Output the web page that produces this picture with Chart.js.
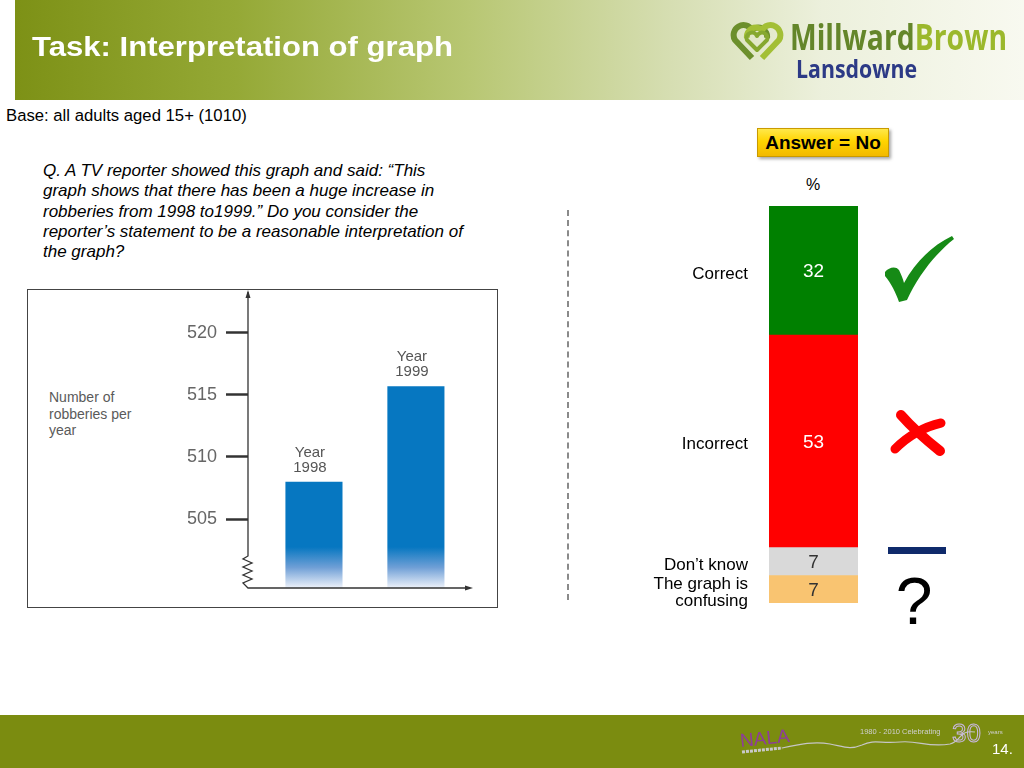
<!DOCTYPE html>
<html>
<head>
<meta charset="utf-8">
<script src="https://cdn.jsdelivr.net/npm/chart.js@4.4.1/dist/chart.umd.min.js"></script>
<style>
  body { margin: 0; width: 1024px; height: 768px; position: relative; overflow: hidden; background: #fff;
         font-family: "Liberation Sans", Arial, sans-serif; }
  .abs { position: absolute; }
  #header { left: 15px; top: 0; width: 1009px; height: 100px;
            background: linear-gradient(90deg, #7d9116 0%, #95a936 22%, #b8c773 45%, #d6deb2 65%, #ecf0dc 80%, #f8f9f0 100%); }
  #footer { left: 0; top: 715px; width: 1024px; height: 53px; background: #7b8c10; }
  #base { left: 6px; top: 108px; font-size: 16.7px; color: #000; line-height: 1; }
  #question { left: 43px; top: 161px; font-size: 17px; font-style: italic; line-height: 20.3px; color: #000; }
  #graphBox { left: 27px; top: 289px; width: 469px; height: 317px; border: 1.5px solid #444; }
  #robLabel { left: 49px; top: 389px; font-size: 14px; line-height: 16.5px; color: #5a5a5a; }
  #answerBox { left: 757px; top: 128px; width: 132px; height: 29px; box-sizing: border-box;
               background: linear-gradient(180deg, #ffe84a 0%, #ffd400 45%, #f2b900 100%);
               border: 1px solid #c99a00; box-shadow: 2px 2px 3px rgba(0,0,0,0.35);
               font-weight: bold; font-size: 19px; line-height: 27px; text-align: center; color: #000; }
  #pct { left: 796px; top: 177px; width: 34px; text-align: center; font-size: 16px; line-height: 16px; }
  #divider { left: 567px; top: 210px; width: 0; height: 390px; border-left: 2px dashed #8a8a8a; }
  canvas { position: absolute; }
  #robChart { left: 28px; top: 290px; }
  #ansChart { left: 620px; top: 200px; }
  svg { position: absolute; left: 0; top: 0; }
</style>
</head>
<body>
<div id="header" class="abs"></div>
<div id="footer" class="abs"></div>

<div id="base" class="abs">Base: all adults aged 15+ (1010)</div>
<div id="question" class="abs">Q. A TV reporter showed this graph and said: “This<br>graph shows that there has been a huge increase in<br>robberies from 1998 to1999.” Do you consider the<br>reporter’s statement to be a reasonable interpretation of<br>the graph?</div>

<div id="graphBox" class="abs"></div>
<div id="robLabel" class="abs">Number of<br>robberies per<br>year</div>
<canvas id="robChart" width="469" height="317"></canvas>

<div id="divider" class="abs"></div>
<div id="answerBox" class="abs">Answer = No</div>
<div id="pct" class="abs">%</div>
<canvas id="ansChart" width="250" height="410"></canvas>

<svg width="1024" height="768">
  <!-- title -->
  <text x="32" y="56" font-family="Liberation Sans, Arial" font-weight="bold" font-size="28" fill="#fff"
        textLength="421" lengthAdjust="spacingAndGlyphs">Task: Interpretation of graph</text>

  <!-- logo -->
  <g fill="none" stroke-width="6" stroke-linejoin="round">
    <path d="M752,58 L735,40 A9,9 0 0 1 752,30 A9,9 0 0 1 767,38" stroke="#6c8f2c"/>
    <path d="M762,58 L779,40 A9,9 0 0 0 762,30 A9,9 0 0 0 747,38" stroke="#a3bf35"/>
    <path d="M757,50 L747,40 A5,5 0 0 1 757,36 A5,5 0 0 1 767,40 Z" stroke="#86a82f" stroke-width="4"/>
  </g>
  <text x="790" y="50" font-family="Open Sans, Lato, sans-serif" font-weight="bold" font-size="35"
        textLength="217" lengthAdjust="spacingAndGlyphs"><tspan fill="#64862a">Millward</tspan><tspan fill="#9bb82c">Brown</tspan></text>
  <text x="796" y="78" font-family="Open Sans, Lato, sans-serif" font-weight="bold" font-size="25" fill="#2c3a86"
        textLength="121" lengthAdjust="spacingAndGlyphs">Lansdowne</text>

  <!-- right-hand markers -->
  <path d="M885,272 C889,267 896,266 899,270 C901,274 903,279 904,283 C915,262 933,245 952,236 L954,239 C935,254 918,276 907,300 L899,302 C896,293 891,283 885,276 Z" fill="#168a16"/>
  <path d="M901,415 Q915,431 940,451" stroke="#ff0000" stroke-width="10" stroke-linecap="round" fill="none"/>
  <path d="M941,423 Q915,429 895,449" stroke="#ff0000" stroke-width="9" stroke-linecap="round" fill="none"/>
  <rect x="888" y="547" width="58" height="7" fill="#0f2a6b"/>
  <text x="914" y="624" font-family="Liberation Sans, Arial" font-size="66" fill="#000" text-anchor="middle">?</text>

  <!-- footer -->
  <text x="740" y="745" font-family="Liberation Sans, Arial" font-size="19" fill="#8e3c9c" transform="rotate(-6 760 740)">NALA</text>
  <path d="M742,752 L782,748" stroke="#c9c9c9" stroke-width="3" stroke-dasharray="3,1"/>
  <path d="M782,748 C800,744 815,741 830,744 C845,747 850,750 862,745 C875,739 880,744 900,742 C918,740 928,748 950,744 C962,741 958,730 975,732"
        stroke="#c6c6c6" stroke-width="1.2" fill="none"/>
  <text x="860" y="734" font-family="Liberation Sans, Arial" font-size="7.5" fill="#d0d0d0">1980 - 2010  Celebrating</text>
  <text x="952" y="742" font-family="Liberation Sans, Arial" font-size="26" fill="none" stroke="#c9b8e0" stroke-width="1">30</text>
  <text x="988" y="734" font-family="Liberation Sans, Arial" font-size="6" fill="#d0d0d0">years</text>
  <text x="992" y="754" font-family="Liberation Sans, Arial" font-size="15" fill="#fff">14.</text>
</svg>

<script>
// ==========================
//  DATA
// ==========================
// graph shown to respondents
const shownYears = [1998, 1999];
const shownRobberies = [508, 515.7];
const shownTicks = [505, 510, 515, 520];

// answers (%), top to bottom
const answerLabels = ['Correct', 'Incorrect', 'Don’t know', ['The graph is', 'confusing']];
const answerValues = [32, 53, 7, 7];

const answerColors = ['#008000', '#ff0000', '#d9d9d9', '#f9c471'];
const answerTextColors = ['#fff', '#fff', '#333', '#333'];

// ==========================
//  ROBBERIES GRAPH
// ==========================
function barFade(ctx) {
  const a = ctx.chart.chartArea;
  if (!a) return '#0677c1';
  const g = ctx.chart.ctx.createLinearGradient(0, a.top, 0, a.bottom);
  const s = (a.bottom - 41 - a.top) / (a.bottom - a.top);
  g.addColorStop(0, '#0677c1');
  g.addColorStop(s, '#0677c1');
  g.addColorStop(s + (1 - s) * 0.5, '#6f9fd6');
  g.addColorStop(1, '#eef2fa');
  return g;
}

const robAxes = {
  id: 'robAxes',
  afterDatasetsDraw(chart) {
    const { ctx, chartArea: a } = chart;
    const x0 = a.left, y0 = a.bottom;
    ctx.save();
    ctx.strokeStyle = '#333';
    ctx.fillStyle = '#333';
    ctx.lineWidth = 1.3;
    ctx.beginPath();
    ctx.moveTo(x0, a.top - 1);
    ctx.lineTo(x0, y0 - 32);
    [[-5, -29], [4, -25], [-5, -21], [4, -17], [-5, -13], [4, -9], [-5, -5], [0, 0]]
      .forEach(([dx, dy]) => ctx.lineTo(x0 + dx, y0 + dy));
    ctx.lineTo(a.right - 4, y0);
    ctx.stroke();
    // arrow heads
    ctx.beginPath();
    ctx.moveTo(x0, a.top - 3); ctx.lineTo(x0 - 2.5, a.top + 5); ctx.lineTo(x0 + 2.5, a.top + 5);
    ctx.fill();
    ctx.beginPath();
    ctx.moveTo(a.right, y0); ctx.lineTo(a.right - 8, y0 - 2.5); ctx.lineTo(a.right - 8, y0 + 2.5);
    ctx.fill();
    // year labels over the bars
    ctx.font = '15px "Liberation Sans", Arial';
    ctx.fillStyle = '#555';
    ctx.textAlign = 'center';
    ctx.textBaseline = 'middle';
    chart.getDatasetMeta(0).data.forEach((bar, i) => {
      ctx.fillText('Year', bar.x - 4, bar.y - 29);
      ctx.fillText(String(shownYears[i]), bar.x - 4, bar.y - 14);
    });
    ctx.restore();
  }
};

const robChart = new Chart(document.getElementById('robChart'), {
  type: 'bar',
  data: {
    datasets: [{
      data: shownYears.map((y, i) => ({ x: y, y: shownRobberies[i] })),
      backgroundColor: barFade,
      borderWidth: 0,
      barPercentage: 0.56,
      categoryPercentage: 1
    }]
  },
  options: {
    responsive: false,
    animation: false,
    events: [],
    layout: { padding: { left: 160, top: 3, right: 24, bottom: 19 } },
    plugins: { legend: { display: false }, tooltip: { enabled: false } },
    scales: {
      x: { type: 'linear', display: false, offset: false, grid: { offset: false }, min: 1997.353, max: 1999.56 },
      y: {
        min: 499.45, max: 523.2,
        afterFit: s => { s.width = 60; s.paddingTop = 0; s.paddingBottom = 0; },
        afterBuildTicks: s => { s.ticks = shownTicks.map(v => ({ value: v })); },
        border: { display: false },
        grid: { drawOnChartArea: false, tickLength: 22, tickWidth: 2.5, tickColor: '#333' },
        ticks: { padding: 9, color: '#666', font: { size: 18, family: '"Liberation Sans", Arial' } }
      }
    }
  },
  plugins: [robAxes]
});

// ==========================
//  ANSWERS BAR
// ==========================
const ansLabels = {
  id: 'ansLabels',
  afterDatasetsDraw(chart) {
    const { ctx, chartArea: a } = chart;
    ctx.save();
    ctx.textBaseline = 'middle';
    chart.data.datasets.forEach((ds, i) => {
      const el = chart.getDatasetMeta(i).data[0];
      const cy = (el.y + el.base) / 2;
      ctx.font = '19px "Liberation Sans", Arial';
      ctx.textAlign = 'center';
      ctx.fillStyle = answerTextColors[i];
      ctx.fillText(String(answerValues[i]), el.x, cy + 2);
      ctx.font = '17px "Liberation Sans", Arial';
      ctx.textAlign = 'right';
      ctx.fillStyle = '#000';
      const lines = [].concat(answerLabels[i]);
      lines.forEach((t, k) => ctx.fillText(t, a.left - 21, cy + 4 + (k - (lines.length - 1) / 2) * 17));
    });
    ctx.restore();
  }
};

const ansChart = new Chart(document.getElementById('ansChart'), {
  type: 'bar',
  data: {
    labels: ['All adults'],
    datasets: answerValues.map((v, i) => ({
      label: [].concat(answerLabels[i]).join(' '),
      data: [v],
      backgroundColor: answerColors[i],
      borderWidth: 0,
      barPercentage: 1,
      categoryPercentage: 1
    }))
  },
  options: {
    responsive: false,
    animation: false,
    events: [],
    layout: { padding: { left: 149, right: 12, top: 6, bottom: 7 } },
    plugins: { legend: { display: false }, tooltip: { enabled: false } },
    scales: {
      x: { display: false, stacked: true },
      y: { display: false, stacked: true, reverse: true, min: 0, max: 99 }
    }
  },
  plugins: [ansLabels]
});
</script>
</body>
</html>
